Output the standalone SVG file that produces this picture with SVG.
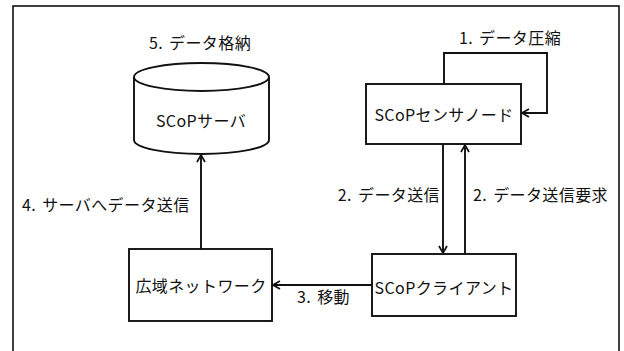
<svg xmlns="http://www.w3.org/2000/svg" width="624" height="351" viewBox="0 0 624 351">
<defs>
<style>
.t{font-family:"Noto Sans CJK JP","Noto Sans",sans-serif;font-size:16px;fill:#111;letter-spacing:0.4px;}
.m{text-anchor:middle;}
.e{text-anchor:end;}
.s{fill:#fff;stroke:#111;stroke-width:1.9;}
.l{fill:none;stroke:#111;stroke-width:1.9;}
</style>
<marker id="ah" viewBox="0 0 10 10" refX="9" refY="5" markerWidth="10" markerHeight="10" markerUnits="userSpaceOnUse" orient="auto">
<path d="M2,1 L9,5 L2,9" fill="none" stroke="#111" stroke-width="1.7"/>
</marker>
</defs>
<rect width="624" height="351" fill="#fff"/>
<rect x="13" y="6" width="606" height="400" fill="none" stroke="#111" stroke-width="1.6"/>
<g id="server">
<path class="s" d="M134,77 L134,140 A67.5,14 0 0 0 269,140 L269,77"/>
<ellipse class="s" cx="201.5" cy="77" rx="67.5" ry="14"/>
<text class="t m" x="201" y="127">SCoPサーバ</text>
</g>
<g id="network">
<rect class="s" x="129" y="249" width="143" height="72"/>
<text class="t m" x="201" y="292">広域ネットワーク</text>
</g>
<g id="sensor">
<rect class="s" x="366" y="84" width="155" height="60"/>
<text class="t m" x="444" y="121">SCoPセンサノード</text>
</g>
<g id="client">
<rect class="s" x="372" y="254" width="144" height="62"/>
<text class="t m" x="444" y="294">SCoPクライアント</text>
</g>
<g id="connectors">
<path class="l" d="M444,84 L444,53 L547,53 L547,113 L522,113" marker-end="url(#ah)"/>
<path class="l" d="M443,144 L443,253" marker-end="url(#ah)"/>
<path class="l" d="M465,254 L465,145" marker-end="url(#ah)"/>
<path class="l" d="M372,285 L273,285" marker-end="url(#ah)"/>
<path class="l" d="M201,249 L201,155" marker-end="url(#ah)"/>
</g>
<g id="labels">
<text class="t m" x="200" y="49">5.<tspan dx="6">データ格納</tspan></text>
<text class="t m" x="510" y="44">1.<tspan dx="6">データ圧縮</tspan></text>
<text class="t e" x="440" y="201">2.<tspan dx="6">データ送信</tspan></text>
<text class="t" x="473" y="201">2.<tspan dx="6">データ送信要求</tspan></text>
<text class="t" x="22" y="211">4.<tspan dx="6">サーバへデータ送信</tspan></text>
<text class="t" x="297" y="303">3.<tspan dx="6">移動</tspan></text>
</g>
</svg>
